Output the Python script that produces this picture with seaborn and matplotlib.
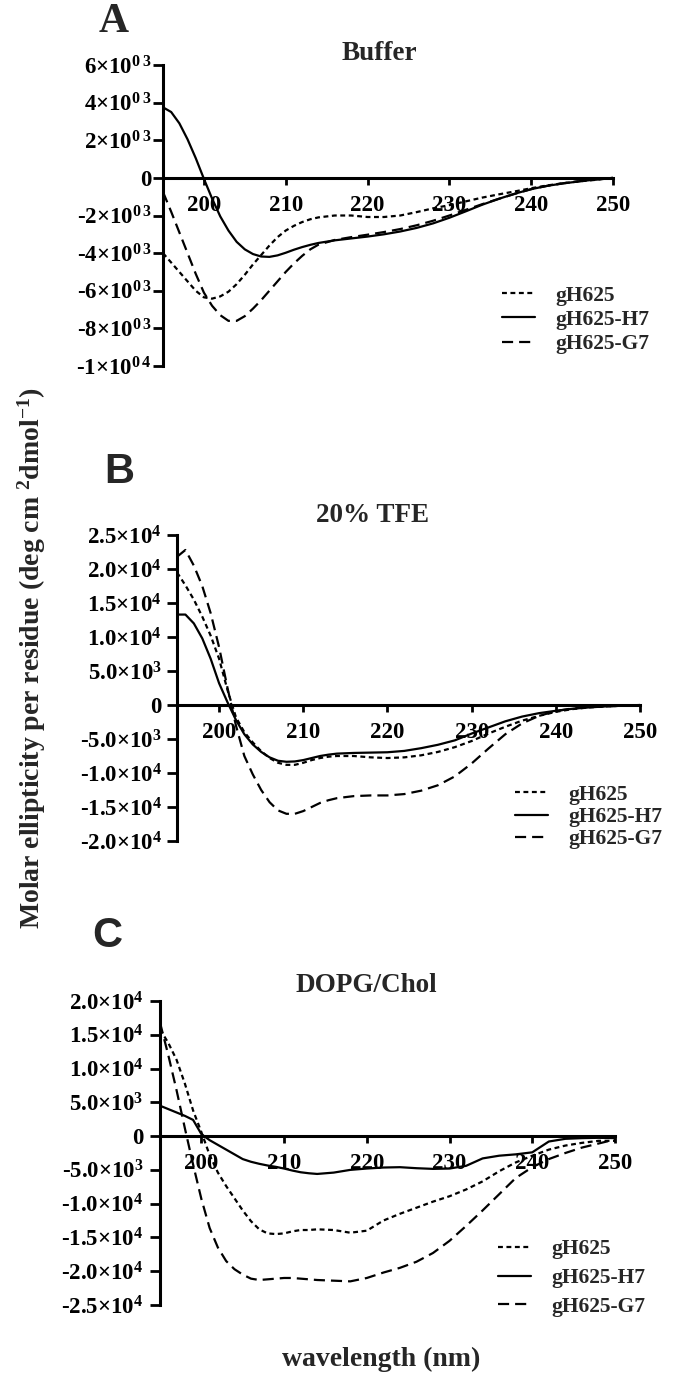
import matplotlib
matplotlib.use('Agg')

import numpy as np
import pandas as pd
import matplotlib.pyplot as plt
import seaborn as sns

# wavelength grid (nm), ellipticity values in units of 10^3 deg cm2 dmol-1
WL = list(range(195, 215)) + list(range(216, 251, 2))

SERIES = ['gH625', 'gH625-H7', 'gH625-G7']

# Panel A: Buffer
A_GH625 = [-4.0, -4.5, -5.0, -5.5, -6.0, -6.35, -6.42, -6.3, -6.05, -5.65,
           -5.15, -4.6, -4.1, -3.6, -3.15, -2.8, -2.55, -2.35, -2.2, -2.1,
           -2.0, -2.0, -2.08, -2.08, -2.0, -1.82, -1.62, -1.45, -1.25, -1.05,
           -0.88, -0.72, -0.55, -0.4, -0.28, -0.18, -0.1, 0.0]
A_H7 = [3.75, 3.5, 2.9, 2.05, 1.05, -0.05, -1.1, -2.05, -2.8, -3.4,
        -3.8, -4.05, -4.18, -4.2, -4.12, -3.98, -3.82, -3.68, -3.56, -3.46,
        -3.32, -3.22, -3.12, -3.0, -2.85, -2.66, -2.42, -2.12, -1.78, -1.43,
        -1.12, -0.84, -0.6, -0.42, -0.29, -0.18, -0.08, 0.0]
A_G7 = [-0.75, -1.8, -2.9, -4.0, -5.1, -6.1, -6.8, -7.3, -7.6, -7.6,
        -7.35, -6.95, -6.5, -6.0, -5.5, -5.0, -4.55, -4.15, -3.8, -3.55,
        -3.3, -3.15, -3.02, -2.88, -2.72, -2.52, -2.28, -2.0, -1.7, -1.4,
        -1.12, -0.85, -0.6, -0.42, -0.28, -0.17, -0.08, 0.0]

# Panel B: 20% TFE
B_GH625 = [19.5, 17.6, 15.5, 13.0, 10.2, 6.8, 2.2, -1.8, -4.0, -5.5,
           -6.8, -7.8, -8.5, -8.8, -8.8, -8.5, -8.1, -7.8, -7.6, -7.5,
           -7.5, -7.7, -7.8, -7.7, -7.4, -6.9, -6.2, -5.3, -4.2, -3.2,
           -2.3, -1.6, -1.0, -0.6, -0.35, -0.2, -0.1, 0.0]
B_H7 = [13.3, 13.3, 12.0, 9.8, 6.8, 3.2, 0.4, -2.2, -4.3, -5.8,
        -6.9, -7.7, -8.2, -8.35, -8.3, -8.1, -7.8, -7.5, -7.3, -7.15,
        -7.05, -7.0, -6.95, -6.75, -6.35, -5.85, -5.2, -4.2, -3.3, -2.4,
        -1.7, -1.2, -0.85, -0.55, -0.35, -0.2, -0.1, 0.0]
B_G7 = [21.8, 22.8, 20.5, 17.5, 13.5, 8.5, 2.5, -3.0, -7.5, -10.2,
        -12.5, -14.3, -15.5, -16.0, -16.0, -15.6, -15.0, -14.4, -14.0, -13.7,
        -13.4, -13.3, -13.3, -13.1, -12.6, -11.8, -10.5, -8.6, -6.4, -4.3,
        -2.7, -1.6, -0.9, -0.5, -0.3, -0.2, -0.1, 0.0]

# Panel C: DOPG/Chol
C_GH625 = [15.8, 13.8, 11.3, 7.8, 3.8, 0.6, -2.8, -5.4, -7.4, -9.2,
           -11.0, -12.6, -13.8, -14.4, -14.5, -14.4, -14.1, -13.9, -13.9, -13.8,
           -13.9, -14.3, -14.0, -12.5, -11.5, -10.6, -9.7, -8.9, -7.9, -6.7,
           -5.2, -3.9, -2.9, -2.0, -1.4, -1.0, -0.7, -0.7]
C_H7 = [4.5, 4.0, 3.5, 3.0, 2.4, 0.3, -0.6, -1.3, -2.0, -2.7,
        -3.4, -3.8, -4.1, -4.35, -4.55, -4.8, -5.1, -5.35, -5.5, -5.6,
        -5.4, -5.0, -4.8, -4.65, -4.6, -4.75, -4.85, -4.8, -4.4, -3.3,
        -2.9, -2.7, -2.4, -0.8, -0.4, -0.3, -0.25, -0.3]
C_G7 = [16.8, 12.0, 6.8, 1.2, -4.2, -9.3, -13.6, -16.5, -18.5, -19.7,
        -20.5, -21.1, -21.3, -21.2, -21.1, -21.0, -21.0, -21.1, -21.2, -21.3,
        -21.4, -21.5, -21.0, -20.2, -19.5, -18.6, -17.3, -15.5, -13.3, -11.0,
        -8.6, -6.2, -4.6, -3.4, -2.5, -1.7, -1.1, -0.5]

XTICKS = [200, 210, 220, 230, 240, 250]

A_YTICKS = [6, 4, 2, 0, -2, -4, -6, -8, -10]
A_YLABELS = ['6×10$^{0\\,3}$', '4×10$^{0\\,3}$', '2×10$^{0\\,3}$', '0',
             '-2×10$^{0\\,3}$', '-4×10$^{0\\,3}$', '-6×10$^{0\\,3}$',
             '-8×10$^{0\\,3}$', '-1×10$^{0\\,4}$']
B_YTICKS = [25, 20, 15, 10, 5, 0, -5, -10, -15, -20]
B_YLABELS = ['2.5×10$^{4}$', '2.0×10$^{4}$', '1.5×10$^{4}$', '1.0×10$^{4}$',
             '5.0×10$^{3}$', '0', '-5.0×10$^{3}$', '-1.0×10$^{4}$',
             '-1.5×10$^{4}$', '-2.0×10$^{4}$']
C_YTICKS = [20, 15, 10, 5, 0, -5, -10, -15, -20, -25]
C_YLABELS = ['2.0×10$^{4}$', '1.5×10$^{4}$', '1.0×10$^{4}$', '5.0×10$^{3}$',
             '0', '-5.0×10$^{3}$', '-1.0×10$^{4}$', '-1.5×10$^{4}$',
             '-2.0×10$^{4}$', '-2.5×10$^{4}$']

sns.set_style('ticks')
plt.rcParams['font.family'] = ['Liberation Serif', 'DejaVu Serif']
plt.rcParams['font.weight'] = 'bold'
plt.rcParams['mathtext.default'] = 'regular'

W, H = 675, 1377
fig = plt.figure(figsize=(W / 100, H / 100), dpi=100)


def fx(px):
    return px / W


def fy(py):
    return 1 - py / H


styles = {'gH625': (0, (2.2, 1.6)), 'gH625-H7': '-', 'gH625-G7': (0, (5.0, 2.7))}

panels = [
    # box = left, right, top, bottom in px
    dict(box=(163, 613, 65, 366), ylim=(-10, 6), data=(A_GH625, A_H7, A_G7),
         yt=A_YTICKS, yl=A_YLABELS, leg=(502, 320), ls=0.2, pad=1),
    dict(box=(177, 640, 535, 841), ylim=(-20, 25), data=(B_GH625, B_H7, B_G7),
         yt=B_YTICKS, yl=B_YLABELS, leg=(515, 817), ls=0.1, pad=4),
    dict(box=(160, 615, 1001, 1305), ylim=(-25, 20), data=(C_GH625, C_H7, C_G7),
         yt=C_YTICKS, yl=C_YLABELS, leg=(498, 1278), ls=0.4, pad=5),
]

for p in panels:
    l, r, t, b = p['box']
    ax = fig.add_axes([fx(l), fy(b), (r - l) / W, (b - t) / H])
    for name, vals in zip(SERIES, p['data']):
        sns.lineplot(x=WL, y=vals, ax=ax, color='black', lw=1.6,
                     linestyle=styles[name], label=name)
    ax.set_xlim(195, 250)
    ax.set_ylim(*p['ylim'])
    ax.spines['top'].set_visible(False)
    ax.spines['right'].set_visible(False)
    ax.spines['bottom'].set_position(('data', 0))
    for s in ('left', 'bottom'):
        ax.spines[s].set_linewidth(2.2)
        ax.spines[s].set_color('black')
    ax.set_xticks(XTICKS)
    ax.set_xticklabels([str(v) for v in XTICKS])
    ax.set_yticks(p['yt'])
    ax.set_yticklabels(p['yl'])
    ax.tick_params(axis='x', direction='out', length=5, width=2, pad=7,
                   labelsize=16.5, colors='black')
    ax.tick_params(axis='y', direction='out', length=7, width=2, pad=p['pad'],
                   labelsize=16.5, colors='black')
    for lab in ax.get_xticklabels() + ax.get_yticklabels():
        lab.set_fontweight('bold')
    ax.set_xlabel('')
    ax.set_ylabel('')
    ax.patch.set_alpha(0)
    lx, ly = p['leg']
    ax.legend(loc='center left', bbox_to_anchor=(fx(lx), fy(ly)),
              bbox_transform=fig.transFigure, frameon=False, borderpad=0,
              borderaxespad=0, handlelength=1.55, handletextpad=0.95,
              labelspacing=p['ls'], prop={'size': 15.5, 'weight': 'bold'})

# panel titles
fig.text(fx(379), fy(53), 'Buffer', ha='center', va='center', fontsize=19.5, fontweight='bold')
fig.text(fx(373), fy(515), '20% TFE', ha='center', va='center', fontsize=19.5, fontweight='bold')
fig.text(fx(366), fy(985), 'DOPG/Chol', ha='center', va='center', fontsize=19.5, fontweight='bold')

# panel letters
fig.text(fx(114), fy(32), 'A', ha='center', va='baseline', fontsize=30, fontweight='bold')
fig.text(fx(119), fy(483), 'B', ha='center', va='baseline', fontsize=30, fontweight='bold',
         family=['Liberation Sans', 'DejaVu Sans'])
fig.text(fx(107), fy(947), 'C', ha='center', va='baseline', fontsize=30, fontweight='bold',
         family=['Liberation Sans', 'DejaVu Sans'])

# shared axis labels
fig.text(fx(32), fy(658), 'Molar ellipticity per residue (deg cm $^{2}$dmol$^{-1}$)',
         rotation=90, ha='center', va='center', fontsize=20, fontweight='bold')
fig.text(fx(381), fy(1359), 'wavelength (nm)', ha='center', va='center',
         fontsize=20, fontweight='bold')

fig.savefig('out.png', dpi=100)
